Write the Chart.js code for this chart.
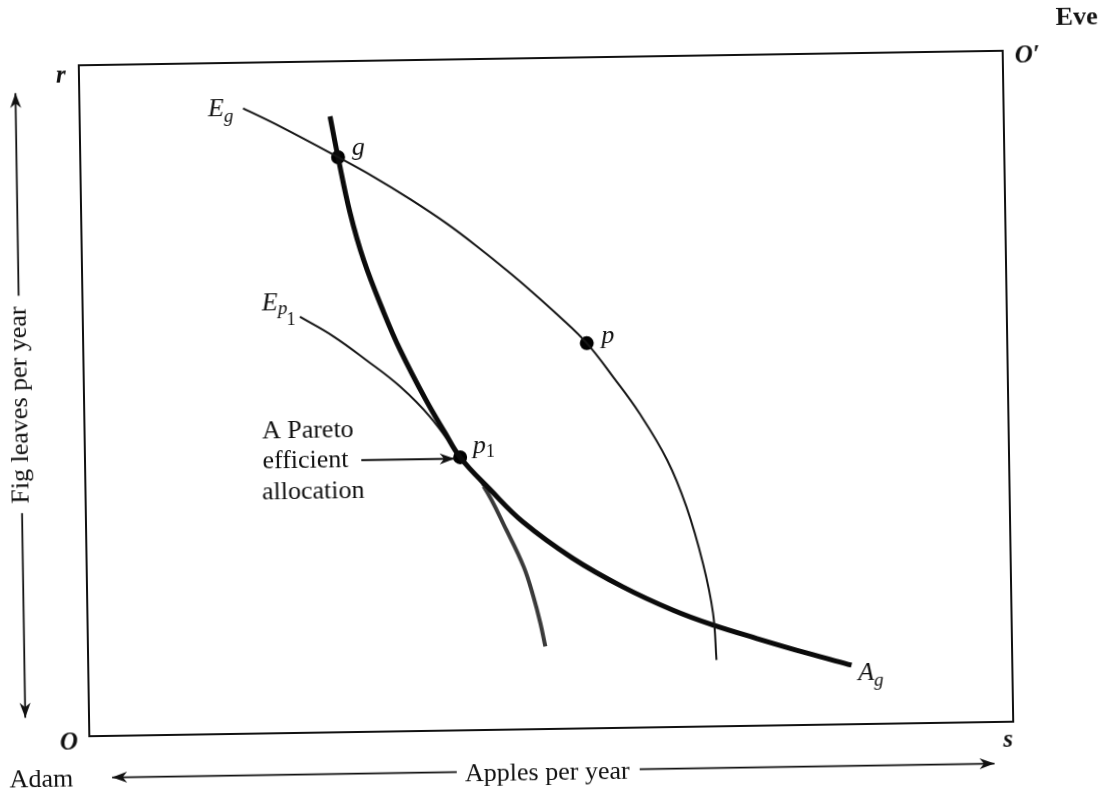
<!DOCTYPE html>
<html>
<head>
<meta charset="utf-8">
<script src="https://cdn.jsdelivr.net/npm/chart.js@4/dist/chart.umd.min.js"></script>
<style>
  html, body { margin: 0; padding: 0; background: #fff; overflow: hidden; }
  #wrap { position: relative; width: 1118px; height: 800px; }
  #c { position: absolute; left: 0; top: 0; transform-origin: 546px 393.5px; transform: rotate(-0.9deg); }
</style>
</head>
<body>
<div id="wrap"><canvas id="c" width="1118" height="800"></canvas></div>
<script>
// Box coordinates: 0..100 apples (x), 0..100 fig leaves (y), Adam's origin at bottom-left
const egX = [17.7, 21.7, 27.9, 31.7, 35.6, 39.6, 43.4, 46.0, 48.4, 51.3, 54.5, 57.3, 60.1, 63.0, 65.0, 66.7, 67.7, 68.0];
const egY = [93.2, 90.4, 85.7, 82.7, 79.3, 75.5, 71.4, 68.4, 65.5, 61.8, 57.4, 52.3, 46.8, 39.8, 32.8, 24.3, 16.9, 9.9];

const agX = [27.1, 27.9, 29.1, 30.5, 32.6, 34.3, 37.0, 39.0, 40.6, 43.8, 47.3, 52.6, 58.0, 63.4, 67.7, 72.4, 77.8, 82.6];
const agY = [91.8, 85.7, 77.4, 70.3, 62.4, 56.8, 49.3, 44.4, 40.7, 35.8, 30.9, 25.4, 21.0, 17.4, 15.1, 13.0, 10.7, 8.8];

const ep1X = [23.5, 27.1, 30.6, 34.2, 37.4, 40.6, 43.1, 45.5, 47.3, 48.3, 49.0, 49.5];
const ep1Y = [62.0, 59.0, 55.4, 51.4, 46.8, 40.7, 36.3, 29.7, 24.2, 19.7, 15.8, 12.3];

const ptNames = ['g', 'p', 'p1'];
const ptX = [27.9, 54.5, 40.6];
const ptY = [85.7, 57.4, 40.7];

const SERIF = '"Liberation Serif", "DejaVu Serif", serif';
const INK = '#111';

const toPts = (xs, ys) => xs.map((x, i) => ({ x: x, y: ys[i] }));

const annot = {
  id: 'annot',
  afterDatasetsDraw(chart) {
    const { ctx, chartArea: a, scales } = chart;
    const X = v => scales.x.getPixelForValue(v);
    const Y = v => scales.y.getPixelForValue(v);
    ctx.save();
    ctx.fillStyle = INK;
    ctx.strokeStyle = INK;

    // box
    ctx.lineWidth = 2;
    ctx.strokeRect(a.left, a.top, a.width, a.height);

    function arrow(x1, y1, x2, y2) {
      ctx.lineWidth = 1.8;
      ctx.beginPath(); ctx.moveTo(x1, y1); ctx.lineTo(x2, y2); ctx.stroke();
      const ang = Math.atan2(y2 - y1, x2 - x1), L = 15, W = 5.5;
      ctx.beginPath();
      ctx.moveTo(x2, y2);
      ctx.lineTo(x2 - L * Math.cos(ang) + W * Math.sin(ang), y2 - L * Math.sin(ang) - W * Math.cos(ang));
      ctx.lineTo(x2 - L * 0.7 * Math.cos(ang), y2 - L * 0.7 * Math.sin(ang));
      ctx.lineTo(x2 - L * Math.cos(ang) - W * Math.sin(ang), y2 - L * Math.sin(ang) + W * Math.cos(ang));
      ctx.closePath(); ctx.fill();
    }
    function parts(list, u, v) {
      let px = X(u); const py = Y(v);
      ctx.textAlign = 'left'; ctx.textBaseline = 'alphabetic';
      list.forEach(p => {
        ctx.font = p.f;
        ctx.fillText(p.t, px + (p.dx || 0), py + (p.dy || 0));
        px += ctx.measureText(p.t).width + (p.dx || 0);
      });
    }
    function text(s, u, v, font, align, base) {
      ctx.font = font; ctx.textAlign = align || 'left'; ctx.textBaseline = base || 'alphabetic';
      ctx.fillText(s, X(u), Y(v));
    }

    const IT = 'italic 26px ' + SERIF;
    const BI = 'bold italic 25px ' + SERIF;
    const SUB = 'italic 19px ' + SERIF;
    const SUBN = '18px ' + SERIF;

    // corner labels
    text('r', -2.5, 97.4, BI);
    text('O\u2032', 101.3, 98.2, BI);
    text('Eve', 105.8, 103.7, 'bold 26px ' + SERIF);
    text('O', -3.2, -2.0, BI);
    text('s', 98.9, -3.8, BI);
    text('Adam', -8.7, -7.4, '26px ' + SERIF);

    // horizontal axis title and arrows
    text('Apples per year', 49.5, -6.6, '26px ' + SERIF, 'center', 'middle');
    arrow(X(39.7), Y(-6.2), X(2.4), Y(-6.2));
    arrow(X(59.5), Y(-6.2), X(97.9), Y(-6.2));

    // vertical axis title and arrows
    ctx.save();
    ctx.translate(X(-6.9), Y(49.5));
    ctx.rotate(-Math.PI / 2);
    ctx.font = '26px ' + SERIF; ctx.textAlign = 'center'; ctx.textBaseline = 'middle';
    ctx.fillText('Fig leaves per year', 0, 0);
    ctx.restore();
    arrow(X(-6.9), Y(65.8), X(-6.9), Y(96.0));
    arrow(X(-6.9), Y(33.4), X(-6.9), Y(2.9));

    // curve labels
    parts([{ t: 'E', f: IT }, { t: 'g', f: SUB, dy: 6 }], 13.9, 92.1);
    parts([{ t: 'E', f: IT }, { t: 'p', f: SUB, dy: 4 }, { t: '1', f: SUBN, dy: 15, dx: -1 }], 19.4, 63.1);
    parts([{ t: 'A', f: IT }, { t: 'g', f: SUB, dy: 6 }], 83.3, 6.6);

    // point labels
    text('g', 29.4, 86.0, IT);
    text('p', 56.1, 57.4, IT);
    parts([{ t: 'p', f: IT }, { t: '1', f: SUBN, dy: 4 }], 42.0, 41.3);

    // Pareto note
    const NF = '26px ' + SERIF;
    text('A Pareto', 19.2, 44.0, NF);
    text('efficient', 19.2, 39.5, NF);
    text('allocation', 19.1, 34.8, NF);
    arrow(X(29.9), Y(40.5), X(40.0), Y(40.5));

    ctx.restore();
  }
};

new Chart(document.getElementById('c'), {
  type: 'scatter',
  data: {
    datasets: [
      { label: 'E_g', data: toPts(egX, egY), showLine: true, borderColor: '#161616', borderWidth: 2,
        pointRadius: 0, tension: 0.4, fill: false },
      { label: 'A_g', data: toPts(agX, agY), showLine: true, borderColor: '#0b0b0b', borderWidth: 5,
        pointRadius: 0, tension: 0.4, fill: false },
      { label: 'E_p1', data: toPts(ep1X, ep1Y), showLine: true, borderColor: '#161616', borderWidth: 2,
        pointRadius: 0, tension: 0.4, fill: false,
        segment: {
          borderWidth: c => c.p0DataIndex >= 6 ? 4 : 2,
          borderColor: c => c.p0DataIndex >= 6 ? '#3a3a3a' : '#161616'
        } },
      { label: 'points', data: toPts(ptX, ptY), showLine: false, pointRadius: 7,
        pointBackgroundColor: '#000', pointBorderColor: '#000', pointBorderWidth: 0 }
    ]
  },
  options: {
    responsive: false,
    animation: false,
    events: [],
    layout: { padding: { left: 84, top: 58, right: 110, bottom: 71 } },
    scales: {
      x: { type: 'linear', min: 0, max: 100, display: false },
      y: { type: 'linear', min: 0, max: 100, display: false }
    },
    plugins: { legend: { display: false }, tooltip: { enabled: false } }
  },
  plugins: [annot]
});
</script>
</body>
</html>
